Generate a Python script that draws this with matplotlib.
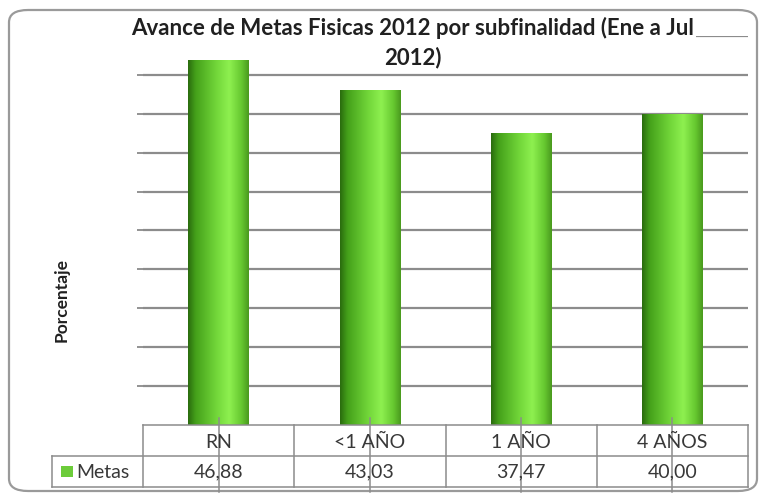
import numpy as np
import matplotlib
matplotlib.use("Agg")
import matplotlib.pyplot as plt
from matplotlib import transforms
from matplotlib.colors import LinearSegmentedColormap
from matplotlib.patches import FancyBboxPatch, Rectangle

categories = ["RN", "<1 AÑO", "1 AÑO", "4 AÑOS"]
metas = [46.88, 43.03, 37.47, 40.00]
value_labels = ["46,88", "43,03", "37,47", "40,00"]
series_name = "Metas"
title_lines = ["Avance de Metas Fisicas 2012 por subfinalidad (Ene a Jul", "2012)"]
ylabel = "Porcentaje"

W, H = 765, 494
plt.rcParams["font.family"] = ["Lato", "DejaVu Sans"]
fig = plt.figure(figsize=(W / 100, H / 100), dpi=100)


def fx(px):
    return px / W


def fy(py):
    return 1 - py / H


# rounded outer frame
frame = FancyBboxPatch((fx(9), fy(491)), fx(748), (491 - 10) / H,
                       boxstyle="round,pad=0,rounding_size=0.025",
                       transform=fig.transFigure, facecolor="white",
                       edgecolor="#9a9a9a", linewidth=1.6, zorder=-1)
fig.patches.append(frame)

ax = fig.add_axes([fx(143), fy(425), fx(748) - fx(143), (425 - 36) / H])
ax.set_facecolor("none")
x = np.arange(len(categories))
ax.set_yticks(np.arange(5, 51, 5))
ax.set_yticklabels([])
ax.set_xticks([])
ax.tick_params(axis="y", length=4, color="#8a8a8a", width=1.3)
ax.grid(axis="y", color="#8c8c8c", linewidth=1.6, zorder=0)
ax.set_axisbelow(True)
for s in ["left", "right", "top"]:
    ax.spines[s].set_visible(False)
ax.spines["bottom"].set_color("#8c8c8c")
ax.spines["bottom"].set_linewidth(1.1)

# cylinder-like shading across each bar
shade = LinearSegmentedColormap.from_list(
    "bar_shade",
    [(0.0, "#2a6c0e"), (0.12, "#44a01a"), (0.45, "#70d438"),
     (0.68, "#8ef050"), (0.88, "#66c830"), (1.0, "#4a9a1e")])
grad = np.linspace(0, 1, 200).reshape(1, -1)
bars = ax.bar(x, metas, width=0.4, color="none", edgecolor="none", zorder=2)
for b in bars:
    x0, w, h = b.get_x(), b.get_width(), b.get_height()
    im = ax.imshow(grad, cmap=shade, extent=[x0, x0 + w, 0, h],
                   aspect="auto", zorder=2, interpolation="bicubic")
    im.set_clip_path(b)
ax.set_xlim(-0.5, len(categories) - 0.5)
ax.set_ylim(0, 50)

# data table under the plot
tr = transforms.blended_transform_factory(ax.transData, fig.transFigure)
line_kw = dict(color="#8c8c8c", linewidth=1.1)
y_top, y_mid, y_bot = fy(425), fy(456), fy(487)
for xb in np.arange(-0.5, len(categories), 1.0):
    ax.plot([xb, xb], [y_top, y_bot], transform=tr, clip_on=False, **line_kw)
for xc in x:
    ax.plot([xc, xc], [fy(418), fy(492)], transform=tr, clip_on=False, **line_kw)
fig.add_artist(plt.Line2D([fx(52), fx(748)], [y_mid, y_mid], **line_kw))
fig.add_artist(plt.Line2D([fx(52), fx(748)], [y_bot, y_bot], **line_kw))
fig.add_artist(plt.Line2D([fx(52), fx(52)], [y_mid, y_bot], **line_kw))

for xc, cat, val in zip(x, categories, value_labels):
    ax.text(xc, fy(442), cat, transform=tr, ha="center", va="center",
            fontsize=14, color="#383838")
    ax.text(xc, fy(472), val, transform=tr, ha="center", va="center",
            fontsize=14, color="#383838")

fig.patches.append(Rectangle((fx(61), fy(477)), fx(12), 11 / H,
                             transform=fig.transFigure, facecolor="#6ccc3a",
                             edgecolor="none"))
fig.text(fx(76), fy(472), series_name, ha="left", va="center",
         fontsize=14, color="#383838")

fig.text(fx(62), fy(300), ylabel, rotation=90, ha="center", va="center",
         fontsize=12.5, fontweight="bold", color="#202020")

# title: first line masks the top gridline, second line sits over the plot
fig.text(fx(413), fy(28), title_lines[0], ha="center", va="center",
         fontsize=16, fontweight="bold", color="#202020",
         bbox=dict(facecolor="white", edgecolor="none", pad=1.5))
fig.text(fx(413), fy(58), title_lines[1], ha="center", va="center",
         fontsize=16, fontweight="bold", color="#202020")

fig.savefig("out.png", dpi=100)
